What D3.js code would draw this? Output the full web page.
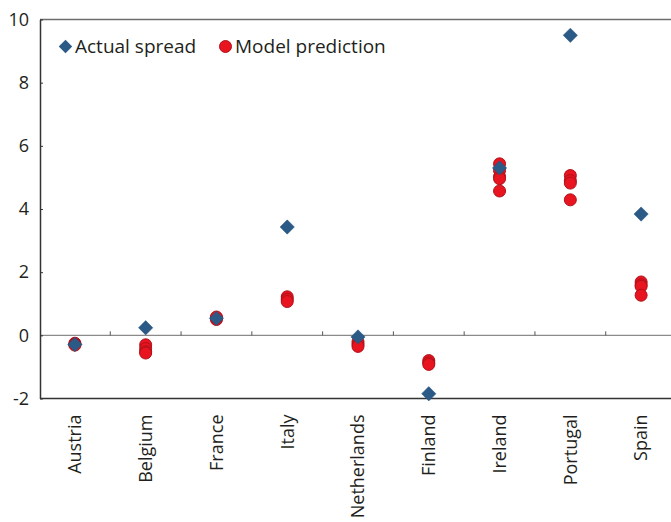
<!DOCTYPE html>
<html>
<head>
<meta charset="utf-8">
<script src="https://cdn.jsdelivr.net/npm/d3@7"></script>
<style>
  body { margin: 0; background: #fff; }
  svg text { font-family: "Open Sans", sans-serif; fill: #231f20; }
</style>
</head>
<body>
<div id="chart"></div>
<script>
'use strict';

const width = 671,
    height = 522,
    margin = {top: 19.5, bottom: 123.5, left: 40, right: -5.5};

const countries = ["Austria", "Belgium", "France", "Italy", "Netherlands", "Finland", "Ireland", "Portugal", "Spain"];
const actualSpread = [-0.29, 0.24, 0.54, 3.43, -0.05, -1.85, 5.3, 9.5, 3.84];
const modelPrediction = [
    [-0.25, -0.28, -0.31],
    [-0.3, -0.42, -0.52, -0.56],
    [0.5, 0.55, 0.58],
    [1.22, 1.14, 1.07],
    [-0.2, -0.28, -0.35],
    [-0.8, -0.87, -0.92],
    [5.43, 5.22, 5.03, 4.96, 4.57],
    [5.06, 4.9, 4.82, 4.29],
    [1.69, 1.6, 1.55, 1.27]
];
const yTicks = [-2, 0, 2, 4, 6, 8, 10];
const legendLabels = ["Actual spread", "Model prediction"];

const blue = "#2b5a87",
    red = "#e8141f",
    redStroke = "#b01019";

const svg = d3.select("#chart")
    .append("svg")
    .attr("width", width)
    .attr("height", height);

const xScale = d3.scaleBand()
    .domain(countries)
    .range([margin.left - 0.5, width - margin.right])
    .padding(0);

const yScale = d3.scaleLinear()
    .domain([-2, 10])
    .range([height - margin.bottom, margin.top]);

const cx = d => xScale(d) + xScale.bandwidth() / 2;

// top frame line
svg.append("line")
    .attr("x1", margin.left).attr("x2", width)
    .attr("y1", yScale(10)).attr("y2", yScale(10))
    .attr("stroke", "#6d6d6d").attr("stroke-width", 1.3);

// bottom line
svg.append("line")
    .attr("x1", margin.left).attr("x2", width)
    .attr("y1", yScale(-2)).attr("y2", yScale(-2))
    .attr("stroke", "#333").attr("stroke-width", 1.5);

// zero line with category separators
svg.append("line")
    .attr("x1", margin.left).attr("x2", width)
    .attr("y1", yScale(0)).attr("y2", yScale(0))
    .attr("stroke", "#8a8a8a").attr("stroke-width", 1.3);

svg.selectAll(".sep")
    .data(countries.slice(1))
    .join("line")
    .attr("class", "sep")
    .attr("x1", d => xScale(d)).attr("x2", d => xScale(d))
    .attr("y1", yScale(0)).attr("y2", yScale(0) - 4)
    .attr("stroke", "#555").attr("stroke-width", 1);

// y axis
const yAxis = d3.axisLeft(yScale)
    .tickValues(yTicks)
    .tickFormat(d => d)
    .tickSizeInner(-3)
    .tickSizeOuter(0)
    .tickPadding(11);

svg.append("g")
    .attr("class", "axis y-axis")
    .attr("transform", `translate(${margin.left},0)`)
    .call(yAxis)
    .call(g => g.select(".domain").attr("stroke", "#333").attr("stroke-width", 1.5))
    .call(g => g.selectAll(".tick line").attr("stroke", "#333"))
    .call(g => g.selectAll(".tick text")
        .style("font-size", "18px")
        .attr("fill", "#231f20"));

// x axis labels
const xAxis = d3.axisBottom(xScale).tickSize(0);

svg.append("g")
    .attr("class", "axis x-axis")
    .attr("transform", `translate(0,${yScale(-2)})`)
    .call(xAxis)
    .call(g => g.select(".domain").remove())
    .call(g => g.selectAll(".tick text")
        .attr("transform", "rotate(-90)")
        .attr("text-anchor", "end")
        .attr("x", -16)
        .attr("y", 0)
        .attr("dy", "0.35em")
        .style("font-size", "18px")
        .attr("fill", "#231f20"));

// model predictions
const predPoints = [];
countries.forEach((c, i) => {
    modelPrediction[i].forEach(v => predPoints.push({country: c, value: v}));
});

svg.selectAll(".pred")
    .data(predPoints)
    .join("circle")
    .attr("class", "pred")
    .attr("cx", d => cx(d.country))
    .attr("cy", d => yScale(d.value))
    .attr("r", 6)
    .attr("fill", red)
    .attr("stroke", redStroke)
    .attr("stroke-width", 1);

// actual spreads
const diamond = d3.symbol().type(d3.symbolDiamond2).size(130);

svg.selectAll(".actual")
    .data(countries.map((c, i) => ({country: c, value: actualSpread[i]})))
    .join("path")
    .attr("class", "actual")
    .attr("d", diamond)
    .attr("transform", d => `translate(${cx(d.country)},${yScale(d.value)})`)
    .attr("fill", blue)
    .attr("stroke", "#24507a")
    .attr("stroke-width", 0.5);

// legend
const legend = svg.append("g").attr("class", "legend");

legend.append("path")
    .attr("d", d3.symbol().type(d3.symbolDiamond2).size(115))
    .attr("transform", "translate(65.5,46.5)")
    .attr("fill", blue);

legend.append("text")
    .attr("x", 75)
    .attr("y", 53)
    .style("font-size", "19px")
    .text(legendLabels[0]);

legend.append("circle")
    .attr("cx", 225.5)
    .attr("cy", 46.5)
    .attr("r", 6)
    .attr("fill", red)
    .attr("stroke", redStroke)
    .attr("stroke-width", 1);

legend.append("text")
    .attr("x", 235)
    .attr("y", 53)
    .style("font-size", "19px")
    .text(legendLabels[1]);
</script>
</body>
</html>
